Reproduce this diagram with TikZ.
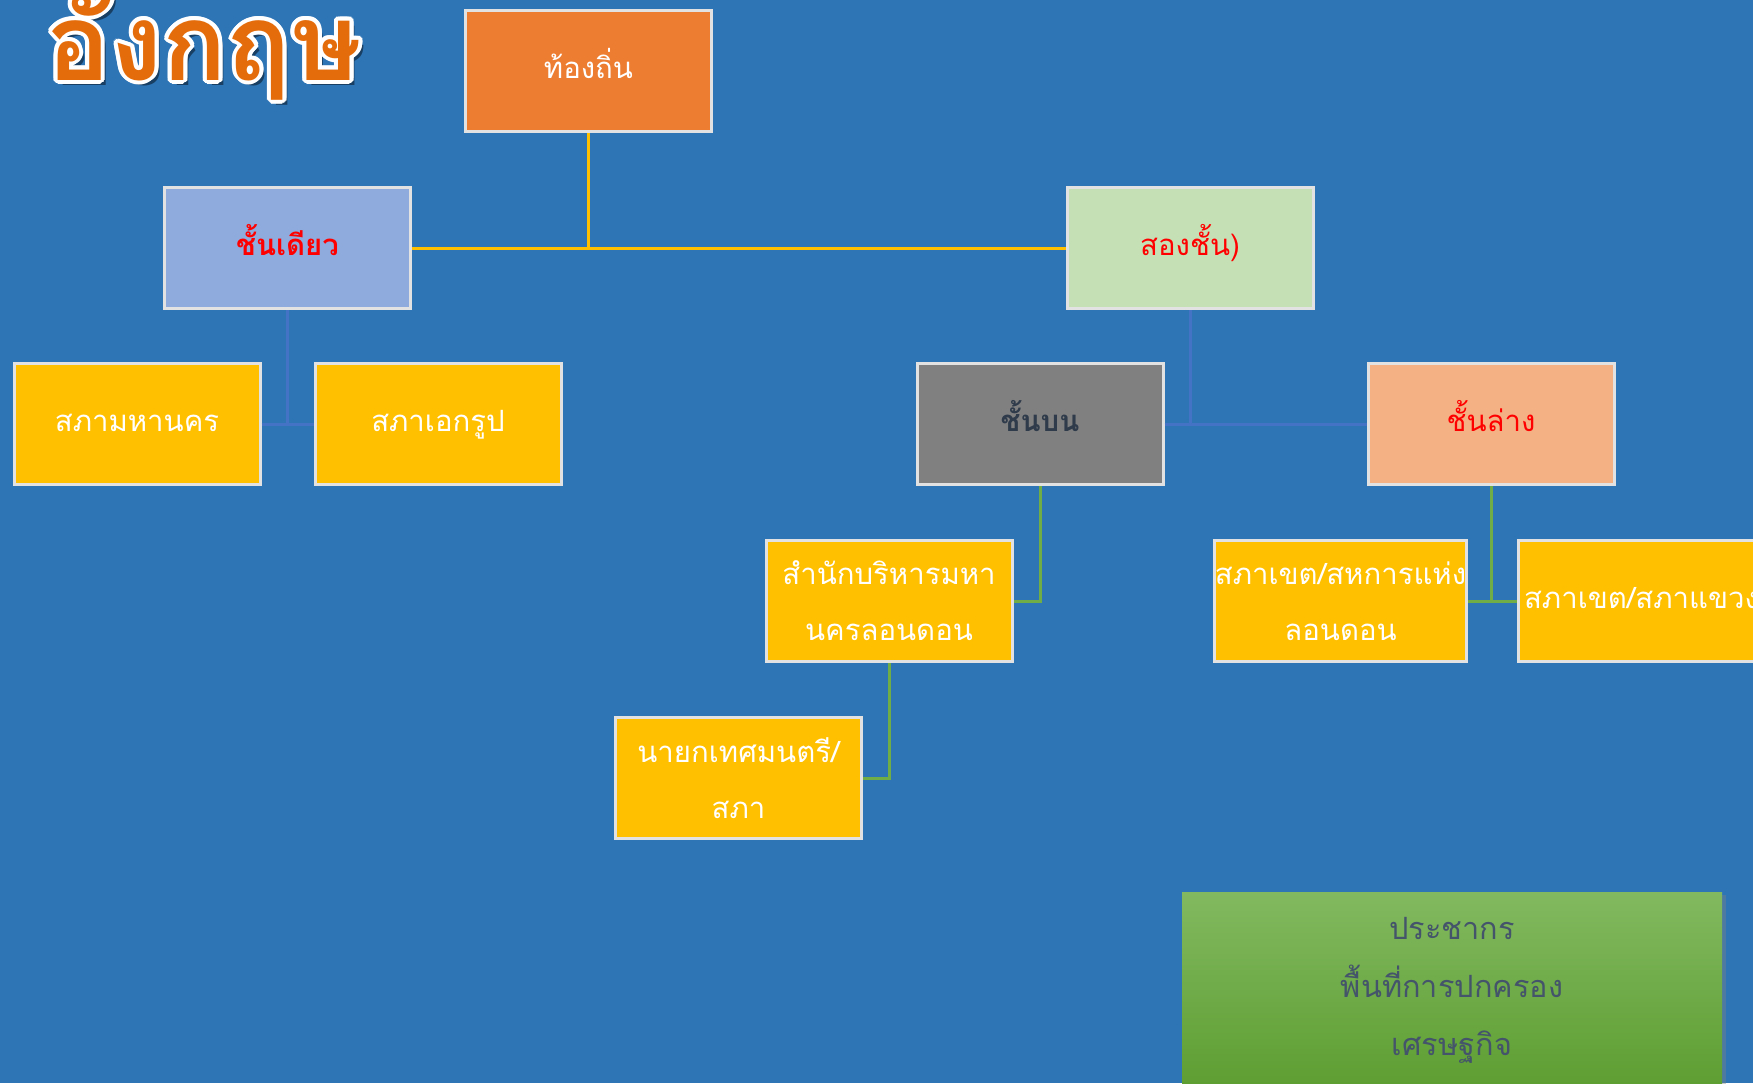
\documentclass[tikz,border=0pt]{standalone}
\usepackage{fontspec}
\setmainfont[Script=Thai]{Loma}
\usepackage{contour}
\contourlength{3pt}
\usetikzlibrary{shadows}
\definecolor{bg}{HTML}{2E75B6}
\definecolor{boxline}{HTML}{E2E2E2}
\definecolor{orangeA}{HTML}{ED7D31}
\definecolor{blueA}{HTML}{8FAADC}
\definecolor{greenA}{HTML}{C5E0B4}
\definecolor{grayA}{HTML}{808080}
\definecolor{peachA}{HTML}{F4B183}
\definecolor{goldA}{HTML}{FFC000}
\definecolor{lineY}{HTML}{FFC000}
\definecolor{lineB}{HTML}{4472C4}
\definecolor{lineG}{HTML}{70AD47}
\definecolor{slate}{HTML}{2F3B4A}
\definecolor{gtext}{HTML}{44546A}
\definecolor{gtop}{HTML}{82B960}
\definecolor{gbot}{HTML}{5B9C2E}
\definecolor{titleor}{HTML}{E46C0A}
\begin{document}
\begin{tikzpicture}[x=0.75pt,y=-0.75pt,
  box/.style={draw=boxline, line width=2.25pt, minimum width=184.5pt, minimum height=90.75pt,
    inner sep=0pt, align=center, font=\fontsize{22}{42}\selectfont},
  oneline/.style={text height=12pt, text depth=1pt},
  ybox/.style={box, fill=goldA, text=white},
  conY/.style={draw=lineY, line width=2.25pt},
  conB/.style={draw=lineB, line width=2.25pt},
  conG/.style={draw=lineG, line width=2.25pt}]
\clip (0,0) rectangle (1753,1083);
\fill[bg] (0,0) rectangle (1753,1083);

% title
\node[anchor=base west, inner sep=0pt, text=black, text opacity=0.45,
  font=\fontsize{80}{90}\selectfont\bfseries] (titleshadow) at (51,85) {อังกฤษ};
\node[anchor=base west, inner sep=0pt, text=titleor,
  font=\fontsize{80}{90}\selectfont\bfseries] (title) at (46,80) {\contour{white}{อังกฤษ}};

% boxes
\node[box, oneline, fill=orangeA, text=white] (top) at (588.5,71) {ท้องถิ่น};
\node[box, oneline, fill=blueA, text=red, font=\fontsize{22}{42}\selectfont\bfseries] (one) at (287.5,248) {ชั้นเดียว};
\node[box, oneline, fill=greenA, text=red] (two) at (1190,248) {สองชั้น)};
\node[ybox, oneline] (smh) at (137,424) {สภามหานคร};
\node[ybox, oneline] (sek) at (438,424) {สภาเอกรูป};
\node[box, oneline, fill=grayA, text=slate, font=\fontsize{22}{42}\selectfont\bfseries] (upper) at (1040,424) {ชั้นบน};
\node[box, oneline, fill=peachA, text=red] (lower) at (1491,424) {ชั้นล่าง};
\node[ybox] (gla) at (889,601) {สำนักบริหารมหา\\นครลอนดอน};
\node[ybox] (mayor) at (738.5,778) {นายกเทศมนตรี/\\สภา};
\node[ybox] (bor) at (1340.5,601) {สภาเขต/สหการแห่ง\\ลอนดอน};
\node[ybox, oneline] (par) at (1641.5,601) {สภาเขต/สภาแขวง};

% connectors
\draw[conY] (top.south) -- (top.south |- one.east);
\draw[conY] (one.east) -- (two.west);
\draw[conB] (one.south) -- (one.south |- smh.east);
\draw[conB] (smh.east) -- (sek.west);
\draw[conB] (two.south) -- (two.south |- upper.east);
\draw[conB] (upper.east) -- (lower.west);
\draw[conG] (upper.south) |- (gla.east);
\draw[conG] (gla.south) |- (mayor.east);
\draw[conG] (lower.south) -- (lower.south |- bor.east);
\draw[conG] (bor.east) -- (par.west);

% green box
\node[minimum width=405pt, minimum height=156pt, inner sep=0pt, anchor=north,
  top color=gtop, bottom color=gbot,
  drop shadow={shadow xshift=3pt, shadow yshift=-2pt, opacity=0.4}] (green) at (1452,892) {};
\node[align=center, text=gtext, font=\fontsize{23}{43.5}\selectfont] (gtxt) at (1452,990)
  {ประชากร\\พื้นที่การปกครอง\\เศรษฐกิจ};
\end{tikzpicture}
\end{document}
